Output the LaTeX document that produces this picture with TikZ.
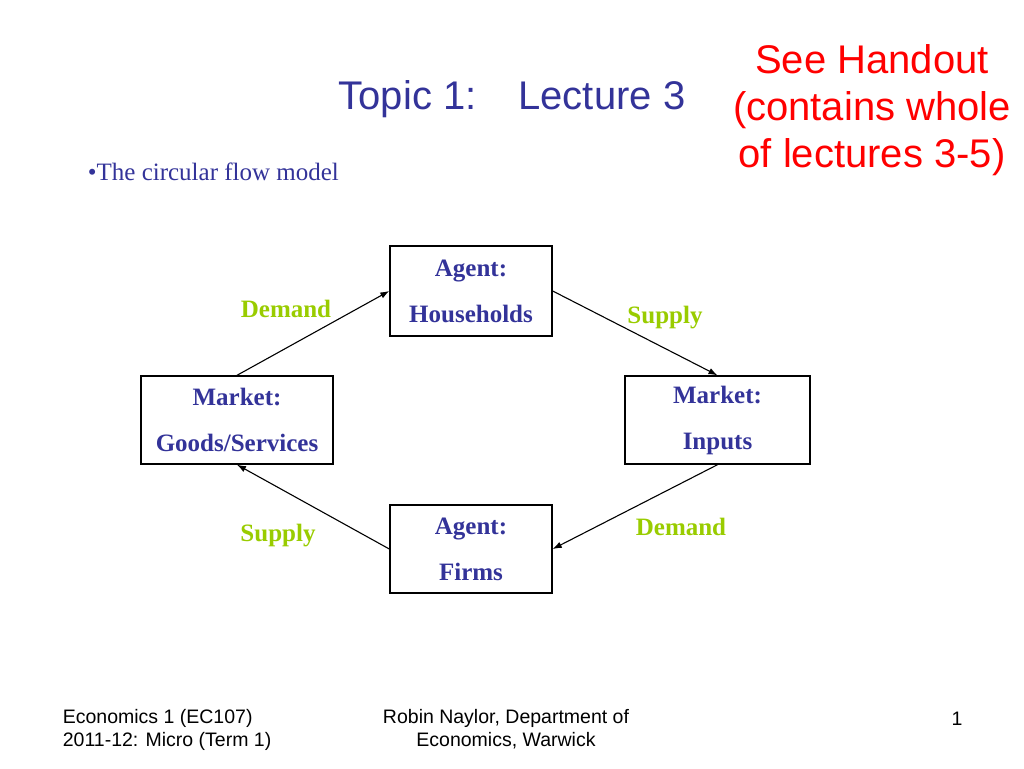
\documentclass[tikz,border=0pt]{standalone}
\usepackage{fontspec}
\setmainfont{Liberation Serif}
\newfontfamily\arialfont{Liberation Sans}
\usepackage{tikz}
\usetikzlibrary{arrows.meta, positioning}

\definecolor{slideblue}{RGB}{51,51,153}
\definecolor{flowgreen}{RGB}{153,204,0}
\definecolor{handoutred}{RGB}{255,0,0}

\begin{document}
\begin{tikzpicture}[
            x = 1pt, y = -1pt,
            > = {Latex[length=9pt, width=6.5pt]}, % arrow head style
            line width = 1.1pt, % line style
            box/.style = {
                draw = black,
                line width = 1.4pt,
                fill = white,
                inner sep = 0pt,
                align = center,
                text = slideblue,
                font = \fontsize{25}{46}\selectfont\bfseries
            },
            flow/.style = {
                text = flowgreen,
                font = \fontsize{25}{30}\selectfont\bfseries
            },
            footer/.style = {
                font = \arialfont\fontsize{19.5}{23.5}\selectfont
            }
        ]

        \useasboundingbox (0,0) rectangle (1024,768);

        % headings
        \node[text = slideblue, font = \arialfont\fontsize{40}{47}\selectfont]
            (title) at (512,99) {Topic 1:\hspace{42pt}Lecture 3};
        \node[text = handoutred, align = center,
              font = \arialfont\fontsize{40}{47}\selectfont]
            (handout) at (872,110) {See Handout\\(contains whole\\of lectures 3-5)};
        \node[anchor = west, text = slideblue, font = \fontsize{25}{30}\selectfont]
            (topic) at (84,172) {\textbullet The circular flow model};

        % boxes
        \node[box, minimum width = 162pt, minimum height = 90pt]
            (hh) at (471,291) {Agent:\\Households};
        \node[box, minimum width = 192pt, minimum height = 88pt]
            (goods) at (237,420) {Market:\\Goods/Services};
        \node[box, minimum width = 185pt, minimum height = 88pt]
            (inputs) at (717.5,420) {Market:\\Inputs};
        \node[box, minimum width = 162pt, minimum height = 88pt]
            (firms) at (471,549) {Agent:\\Firms};

        % flows
        \path[->] (goods.north) edge (hh.west);
        \path[->] (hh.east) edge (inputs.north);
        \path[->] (inputs.south) edge (firms.east);
        \path[->] (firms.west) edge (goods.south);

        \node[flow] (dgoods) at (286,309) {Demand};
        \node[flow] (sinputs) at (665,318) {Supply};
        \node[flow] (sgoods) at (278,536) {Supply};
        \node[flow] (dinputs) at (681,527) {Demand};

        % footer
        \node[footer, anchor = west, align = left]
            (course) at (59,730) {Economics 1 (EC107)\\2011-12: Micro (Term 1)};
        \node[footer, align = center]
            (author) at (506,729) {Robin Naylor, Department of\\Economics, Warwick};
        \node[footer] (page) at (957,719) {1};

  \end{tikzpicture}
\end{document}
